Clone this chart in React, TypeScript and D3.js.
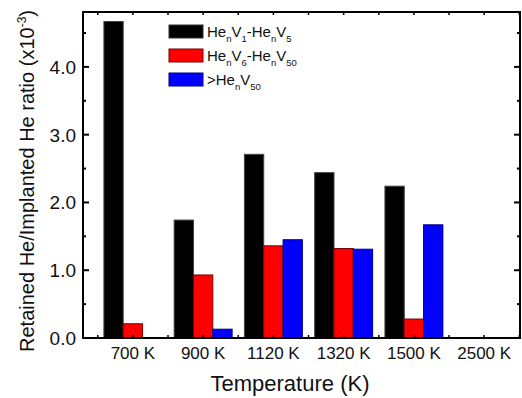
import React from 'react';
import * as d3 from 'd3';

const categories = ['700 K', '900 K', '1120 K', '1320 K', '1500 K', '2500 K'];
const smallClusters = [4.67, 1.74, 2.71, 2.44, 2.24, 0];
const mediumClusters = [0.21, 0.93, 1.36, 1.32, 0.28, 0];
const largeClusters = [0, 0.13, 1.45, 1.31, 1.67, 0];
const yTickValues = [0, 1, 2, 3, 4];
const yTickLabels = ['0.0', '1.0', '2.0', '3.0', '4.0'];

const W = 522;
const H = 398;
const M = { left: 83, right: 520, top: 12, bottom: 338 };
const FONT = "'Liberation Sans', Arial, sans-serif";

const seriesList = [
  { values: smallClusters, fill: '#000000', stroke: '#444444' },
  { values: mediumClusters, fill: '#ff0000', stroke: '#7a0000' },
  { values: largeClusters, fill: '#0000ff', stroke: '#000080' },
];

function SubLabel({ parts, x, y }: { parts: [string, boolean][]; x: number; y: number }) {
  let shift = 0;
  const spans: React.ReactNode[] = [];
  parts.forEach(([t, sub], i) => {
    const target = sub ? 5 : 0;
    const dy = target - shift;
    shift = target;
    spans.push(
      <tspan key={i} dy={dy} fontSize={sub ? 9.5 : 15}>
        {t}
      </tspan>
    );
  });
  return (
    <text x={x} y={y} fontFamily={FONT} fill="#111">
      {spans}
    </text>
  );
}

export default function App() {
  const x = d3.scaleLinear().domain([0.29, 6.51]).range([M.left, M.right]);
  const y = d3.scaleLinear().domain([0, 4.81]).range([M.bottom, M.top]);
  const barW = 0.275;
  const xTicks = d3.range(0.5, 6.51, 0.5);
  const yMinor = d3.range(0.5, 4.8, 1);

  const legendItems: [string, boolean][][] = [
    [['He', false], ['n', true], ['V', false], ['1', true], ['-He', false], ['n', true], ['V', false], ['5', true]],
    [['He', false], ['n', true], ['V', false], ['6', true], ['-He', false], ['n', true], ['V', false], ['50', true]],
    [['>He', false], ['n', true], ['V', false], ['50', true]],
  ];

  return (
    <svg width={W} height={H} style={{ position: 'absolute', left: 0, top: 0, background: '#fff' }}>
      <rect width={W} height={H} fill="#fff" />
      {seriesList.map((s, si) =>
        s.values.map((v, i) => {
          const cx = x(i + 1) + (si - 1) * (x(barW) - x(0));
          const bw = x(barW) - x(0);
          if (v <= 0) return null;
          return (
            <rect
              key={`${si}-${i}`}
              x={cx - bw / 2}
              y={y(v)}
              width={bw}
              height={y(0) - y(v)}
              fill={s.fill}
              stroke={s.stroke}
              strokeWidth={1}
            />
          );
        })
      )}
      {/* frame */}
      <rect
        x={M.left}
        y={M.top}
        width={M.right - M.left}
        height={M.bottom - M.top}
        fill="none"
        stroke="#000"
        strokeWidth={2}
      />
      {/* x ticks */}
      {xTicks.map((t) => (
        <g key={`xt${t}`} stroke="#000" strokeWidth={1.5}>
          <line x1={x(t)} x2={x(t)} y1={M.bottom} y2={M.bottom - 3} />
          <line x1={x(t)} x2={x(t)} y1={M.top} y2={M.top + 3} />
        </g>
      ))}
      {/* y ticks */}
      {yTickValues.map((t) => (
        <g key={`yt${t}`} stroke="#000" strokeWidth={2}>
          <line x1={M.left} x2={M.left + 6} y1={y(t)} y2={y(t)} />
          <line x1={M.right} x2={M.right - 6} y1={y(t)} y2={y(t)} />
        </g>
      ))}
      {yMinor.map((t) => (
        <g key={`ym${t}`} stroke="#000" strokeWidth={2}>
          <line x1={M.left} x2={M.left + 3} y1={y(t)} y2={y(t)} />
          <line x1={M.right} x2={M.right - 3} y1={y(t)} y2={y(t)} />
        </g>
      ))}
      {/* y tick labels */}
      {yTickValues.map((t, i) => (
        <text
          key={`yl${t}`}
          x={M.left - 7}
          y={y(t) + 7}
          textAnchor="end"
          fontFamily={FONT}
          fontSize={19}
          fill="#111"
        >
          {yTickLabels[i]}
        </text>
      ))}
      {/* x tick labels */}
      {categories.map((c, i) => (
        <text
          key={c}
          x={x(i + 1)}
          y={M.bottom + 21}
          textAnchor="middle"
          fontFamily={FONT}
          fontSize={17}
          fill="#111"
        >
          {c}
        </text>
      ))}
      {/* axis titles */}
      <text x={290} y={391} textAnchor="middle" fontFamily={FONT} fontSize={22} fill="#111">
        Temperature (K)
      </text>
      <text
        transform={`translate(34, 181) rotate(-90)`}
        textAnchor="middle"
        fontFamily={FONT}
        fontSize={20}
        fill="#111"
      >
        Retained He/Implanted He ratio (x10
        <tspan dy={-8} fontSize={12}>-3</tspan>
        <tspan dy={8}>)</tspan>
      </text>
      {/* legend */}
      {legendItems.map((parts, i) => (
        <g key={`lg${i}`}>
          <rect
            x={169}
            y={25 + i * 24}
            width={34}
            height={13}
            fill={seriesList[i].fill}
            stroke={i === 0 ? '#333' : seriesList[i].stroke}
            strokeWidth={1}
          />
          <SubLabel parts={parts} x={207} y={37 + i * 24} />
        </g>
      ))}
    </svg>
  );
}
